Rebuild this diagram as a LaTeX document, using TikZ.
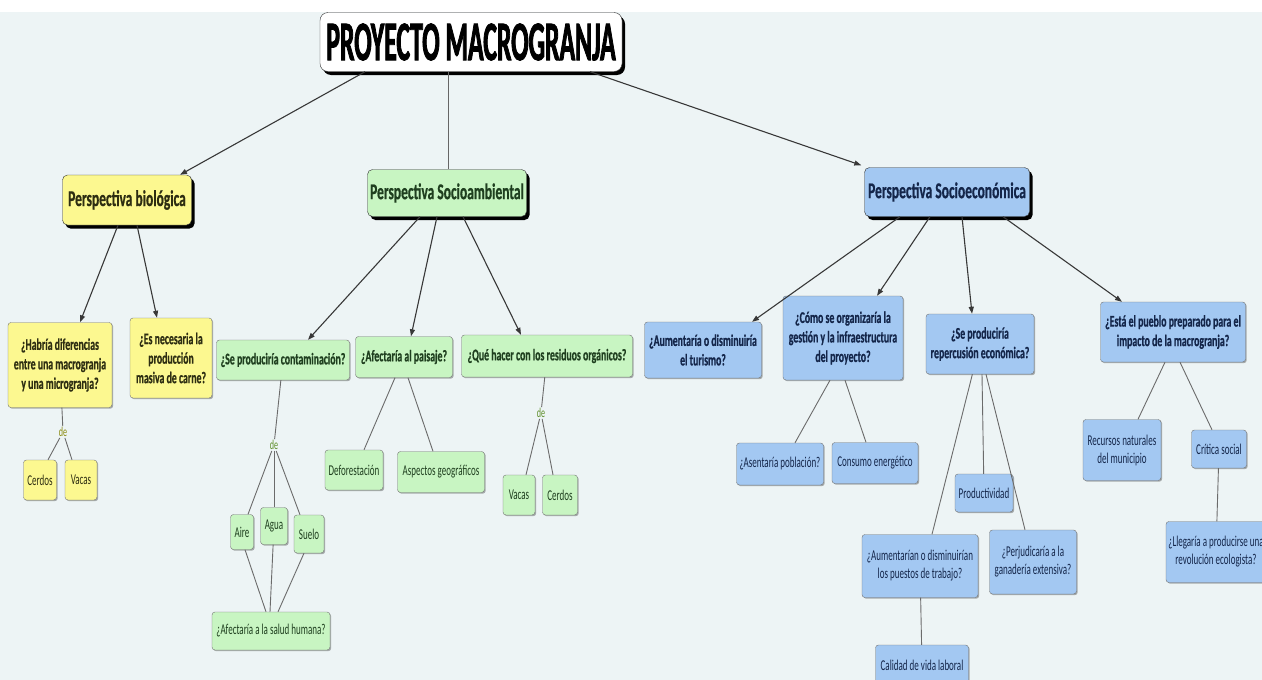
\documentclass[tikz,border=0pt]{standalone}
\usepackage{fontspec}
\setmainfont{Carlito}[FakeStretch=0.6, BoldFeatures={FakeBold=0.6}]
\newfontfamily\titlefont{Carlito}[FakeStretch=0.46, BoldFeatures={FakeBold=1.4}]
\usetikzlibrary{positioning,arrows.meta,shadows}
\definecolor{mapbg}{HTML}{EDF4F5}
\definecolor{bioyel}{HTML}{FCF890}
\definecolor{ambgreen}{HTML}{C8F5C2}
\definecolor{ecoblue}{HTML}{A3C8F2}
\definecolor{deyel}{HTML}{8A8A10}
\definecolor{degreen}{HTML}{5E8E2A}
\definecolor{yeltext}{HTML}{2E2E12}
\definecolor{grntext}{HTML}{1F3F1F}
\definecolor{blutext}{HTML}{14264A}

\begin{document}
\begin{tikzpicture}[x=1pt, y=-1pt,
  font=\fontsize{15}{18}\selectfont,
  box/.style={rounded corners=3pt, draw=black!55, align=center, inner sep=1pt,
    drop shadow={shadow xshift=1.2pt, shadow yshift=-1.2pt, fill=black, opacity=0.3}},
  ask/.style={box, font=\fontsize{16.3}{19.5}\selectfont\bfseries},
  head/.style={box, rounded corners=5pt, draw=black!80, font=\fontsize{22.5}{26}\selectfont\bfseries,
    drop shadow={shadow xshift=3pt, shadow yshift=-3.5pt, fill=black, opacity=1}},
  yel/.style={fill=bioyel, text=yeltext},
  grn/.style={fill=ambgreen, text=grntext},
  blu/.style={fill=ecoblue, text=blutext},
  de/.style={font=\fontsize{13.5}{15}\selectfont, inner sep=1pt},
  arr/.style={-{Triangle[length=7pt, width=5pt]}, draw=black!78, line width=1.1pt},
  link/.style={draw=black!58, line width=0.9pt}
]
\useasboundingbox (0,0) rectangle (1262,680);
\fill[white] (0,0) rectangle (1262,12);
\fill[mapbg] (0,12) rectangle (1262,680);

\node[head, fill=white, rounded corners=8pt, minimum width=302pt, minimum height=59pt,
  font=\titlefont\fontsize{56}{60}\selectfont\bfseries, text=black] (title) at (471,42) {PROYECTO MACROGRANJA};

\node[head, yel, minimum width=129pt, minimum height=50pt] (bio) at (127,200) {Perspectiva biológica};
\node[head, grn, minimum width=159pt, minimum height=47pt] (amb) at (447,193) {Perspectiva Socioambiental};
\node[head, blu, minimum width=165pt, minimum height=49pt] (eco) at (947,192) {Perspectiva Socioeconómica};

% biologica
\node[ask, yel, minimum width=104pt, minimum height=85pt] (habria) at (60,365) {¿Habría diferencias\\entre una macrogranja\\y una microgranja?};
\node[ask, yel, minimum width=82pt, minimum height=80pt] (carne) at (171,358) {¿Es necesaria la\\producción\\masiva de carne?};
\node[de, text=deyel] (debio) at (63,432) {de};
\node[box, yel, minimum width=33pt, minimum height=40pt] (cerdosa) at (40,480) {Cerdos};
\node[box, yel, minimum width=32pt, minimum height=40pt] (vacasa) at (81,480) {Vacas};

% socioambiental
\node[ask, grn, minimum width=133pt, minimum height=40pt] (contam) at (283,360) {¿Se produciría contaminación?};
\node[ask, grn, minimum width=97pt, minimum height=41pt] (paisaje) at (404,357) {¿Afectaría al paisaje?};
\node[ask, grn, minimum width=171pt, minimum height=42pt] (residuos) at (547,356) {¿Qué hacer con los residuos orgánicos?};
\node[de, text=degreen] (deamb) at (274,445) {de};
\node[box, grn, minimum width=23pt, minimum height=35pt] (aire) at (242,532) {Aire};
\node[box, grn, minimum width=27pt, minimum height=37pt] (agua) at (274,526) {Agua};
\node[box, grn, minimum width=30pt, minimum height=38pt] (suelo) at (309,534) {Suelo};
\node[box, grn, minimum width=118pt, minimum height=38pt] (salud) at (271,631) {¿Afectaría a la salud humana?};
\node[box, grn, minimum width=58pt, minimum height=40pt] (defor) at (354,470) {Deforestación};
\node[box, grn, minimum width=87pt, minimum height=41pt] (aspectos) at (441,472) {Aspectos geográficos};
\node[de, text=degreen] (deres) at (541,413) {de};
\node[box, grn, minimum width=32pt, minimum height=40pt] (vacasb) at (519,495) {Vacas};
\node[box, grn, minimum width=35pt, minimum height=40pt] (cerdosb) at (560,495) {Cerdos};

% socioeconomica
\node[ask, blu, minimum width=117pt, minimum height=56pt] (turismo) at (703,350) {¿Aumentaría o disminuiría\\el turismo?};
\node[ask, blu, minimum width=120pt, minimum height=84pt] (gestion) at (843,338) {¿Cómo se organizaría la\\gestión y la infraestructura\\del proyecto?};
\node[ask, blu, minimum width=108pt, minimum height=60pt] (repercu) at (980,344) {¿Se produciría\\repercusión económica?};
\node[ask, blu, minimum width=145pt, minimum height=60pt] (pueblo) at (1173,332) {¿Está el pueblo preparado para el\\impacto de la macrogranja?};
\node[box, blu, minimum width=87pt, minimum height=42pt] (poblacion) at (780,464) {¿Asentaría población?};
\node[box, blu, minimum width=86pt, minimum height=41pt] (consumo) at (875,463) {Consumo energético};
\node[box, blu, minimum width=58pt, minimum height=38pt] (product) at (984,493) {Productividad};
\node[box, blu, minimum width=116pt, minimum height=63pt] (puestos) at (920,566) {¿Aumentarían o disminuirían\\los puestos de trabajo?};
\node[box, blu, minimum width=87pt, minimum height=64pt] (ganaderia) at (1033,562) {¿Perjudicaría a la\\ganadería extensiva?};
\node[box, blu, minimum width=93pt, minimum height=40pt] (calidad) at (922,665) {Calidad de vida laboral};
\node[box, blu, minimum width=78pt, minimum height=61pt] (recursos) at (1122,450) {Recursos naturales\\del municipio};
\node[box, blu, minimum width=55pt, minimum height=38pt] (critica) at (1219,449) {Crítica social};
\node[box, blu, minimum width=100pt, minimum height=61pt] (revolucion) at (1216,552) {¿Llegaría a producirse una\\revolución ecologista?};

\draw[arr] ([xshift=-106pt]title.south) -- ([xshift=53pt]bio.north);
\draw[link, draw=black!60] ([xshift=-23pt]title.south) -- ([xshift=1pt]amb.north);
\draw[arr] ([xshift=119pt]title.south) -- ([xshift=-3pt, yshift=2pt]eco.north west);

\draw[arr] ([xshift=-9pt]bio.south) -- ([xshift=20pt]habria.north);
\draw[arr] ([xshift=10pt]bio.south) -- ([xshift=-14pt]carne.north);
\draw[link] (habria) -- (debio);
\draw[link] (debio) -- ([xshift=8pt]cerdosa.north);
\draw[link] (debio) -- ([xshift=-9pt]vacasa.north);

\draw[arr] ([xshift=-27pt]amb.south) -- ([xshift=25pt]contam.north);
\draw[arr] ([xshift=-10pt]amb.south) -- ([xshift=7pt]paisaje.north);
\draw[arr] ([xshift=16pt]amb.south) -- ([xshift=-26pt]residuos.north);
\draw[link] (contam) -- (deamb);
\draw[link] (deamb) -- ([xshift=6pt]aire.north);
\draw[link] (deamb) -- (agua);
\draw[link] (deamb) -- ([xshift=-9pt]suelo.north);
\draw[link] ([xshift=3pt]aire.south) -- ([xshift=-5pt]salud.north);
\draw[link] (agua) -- ([xshift=-1pt]salud.north);
\draw[link] ([xshift=-5pt]suelo.south) -- ([xshift=7pt]salud.north);
\draw[link] ([xshift=-9pt]paisaje.south) -- ([xshift=10pt]defor.north);
\draw[link] ([xshift=4pt]paisaje.south) -- ([xshift=-8pt]aspectos.north);
\draw[link] (residuos) -- (deres);
\draw[link] (deres) -- ([xshift=7pt]vacasb.north);
\draw[link] (deres) -- ([xshift=-7pt]cerdosb.north);

\draw[arr] ([xshift=-47pt]eco.south) -- ([xshift=49pt]turismo.north);
\draw[arr] ([xshift=-17pt]eco.south) -- ([xshift=34pt]gestion.north);
\draw[arr] ([xshift=15pt]eco.south) -- ([xshift=-8pt]repercu.north);
\draw[arr] ([xshift=56pt]eco.south) -- ([xshift=-51pt]pueblo.north);
\draw[link] ([xshift=-13pt]gestion.south) -- ([xshift=15pt]poblacion.north);
\draw[link] ([xshift=2pt]gestion.south) -- ([xshift=-9pt]consumo.north);
\draw[link] ([xshift=2pt]repercu.south) -- (product);
\draw[link] (repercu) -- ([xshift=12pt]puestos.north);
\draw[link] ([xshift=6pt]repercu.south) -- ([xshift=-8pt]ganaderia.north);
\draw[link] (puestos) -- (calidad);
\draw[link] ([xshift=-8pt]pueblo.south) -- ([xshift=16pt]recursos.north);
\draw[link] ([xshift=7pt]pueblo.south) -- ([xshift=-7pt]critica.north);
\draw[link] (critica) -- (revolucion);
\end{tikzpicture}
\end{document}
